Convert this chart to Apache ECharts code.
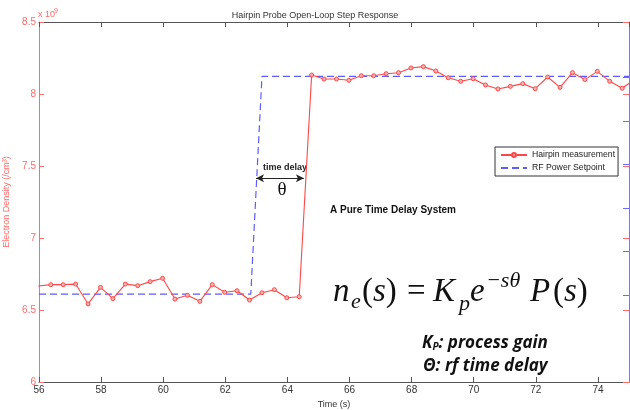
<!DOCTYPE html>
<html>
<head>
<meta charset="utf-8">
<script src="https://cdn.jsdelivr.net/npm/echarts@6/dist/echarts.min.js"></script>
<style>
  html, body { margin: 0; padding: 0; background: #fff; }
  #chart { width: 630px; height: 410px; }
</style>
</head>
<body>
<div id="chart"></div>
<script>
// Hairpin probe samples (time in s, electron density in units of 1e9 /cm^3)
const sampleTime = [
  55.98, 56.38, 56.78, 57.18, 57.58, 57.98, 58.38, 58.78, 59.18, 59.58,
  59.98, 60.38, 60.78, 61.18, 61.58, 61.98, 62.38, 62.78, 63.18, 63.58,
  63.98, 64.38, 64.78, 65.18, 65.58, 65.98, 66.38, 66.78, 67.18, 67.58,
  67.98, 68.38, 68.78, 69.18, 69.58, 69.98, 70.38, 70.78, 71.18, 71.58,
  71.98, 72.38, 72.78, 73.18, 73.58, 73.98, 74.38, 74.78, 75.18
];
const density = [
  6.667, 6.676, 6.676, 6.680, 6.542, 6.657, 6.579, 6.680, 6.669, 6.697,
  6.720, 6.576, 6.602, 6.560, 6.676, 6.623, 6.634, 6.569, 6.620, 6.641,
  6.585, 6.592, 8.132, 8.104, 8.104, 8.095, 8.127, 8.127, 8.141, 8.148,
  8.181, 8.190, 8.160, 8.113, 8.088, 8.106, 8.063, 8.035, 8.053, 8.072,
  8.037, 8.118, 8.046, 8.148, 8.100, 8.157, 8.088, 8.040, 8.100
];

// RF power setpoint step, drawn on the density scale
const setpointTime = [56, 62.82, 63.18, 75];
const setpointLevel = [6.61, 6.61, 8.123, 8.123];

// Time-delay arrow endpoints [t, density]
const delayStart = [62.99, 7.415];
const delayEnd = [64.53, 7.415];

// Axis settings
const xMin = 56, xMax = 75, xStep = 2;
const yMin = 6, yMax = 8.5, yStep = 0.5;
// Secondary (setpoint) axis tick positions
const powerMin = 0, powerMax = 8.28;
const powerTicks = [2, 3, 4, 5, 6, 7];

const RED = '#ff4646';
const RED_AXIS = '#ff6a6a';
const BLUE = '#5c5cff';
const DARK = '#555555';
const SANS = 'Arial, "Liberation Sans", sans-serif';

const measured = sampleTime.map((t, i) => [t, density[i]]);
const setpoint = setpointTime.map((t, i) => [t, setpointLevel[i]]);

const chart = echarts.init(document.getElementById('chart'), null, { renderer: 'canvas' });

const eqY = 292;
const serif = '"Liberation Serif", "Times New Roman", serif';
const noteFont = '"Open Sans", Lato, sans-serif';

chart.setOption({
  animation: false,
  backgroundColor: '#ffffff',
  title: {
    text: 'Hairpin Probe Open-Loop Step Response',
    left: 'center',
    top: 6,
    textStyle: { fontSize: 9, fontWeight: 'normal', color: '#333', fontFamily: SANS }
  },
  grid: { left: 39, right: 1, top: 22, bottom: 28, containLabel: false, outerBoundsMode: 'none' },
  legend: {
    orient: 'vertical',
    left: 495,
    top: 147,
    padding: [2, 3, 2, 5],
    itemGap: 1,
    itemWidth: 26,
    itemHeight: 5,
    backgroundColor: '#ffffff',
    borderColor: '#333',
    borderWidth: 1,
    borderRadius: 0,
    textStyle: { fontSize: 8.7, color: '#222', lineHeight: 12, fontFamily: SANS },
    data: [
      { name: 'Hairpin measurement' },
      { name: 'RF Power Setpoint', itemStyle: { opacity: 0 } }
    ]
  },
  xAxis: [
    {
      type: 'value', position: 'bottom', min: xMin, max: xMax, interval: xStep,
      name: 'Time (s)', nameLocation: 'middle', nameGap: 12,
      nameTextStyle: { fontSize: 9, color: '#333', fontFamily: SANS },
      axisLine: { show: true, lineStyle: { color: DARK, width: 1 } },
      axisTick: { show: true, inside: true, length: 5, lineStyle: { color: DARK } },
      axisLabel: { fontSize: 10, color: '#333', margin: 3, showMaxLabel: false, fontFamily: SANS },
      splitLine: { show: false }
    },
    {
      type: 'value', position: 'top', min: xMin, max: xMax, interval: xStep,
      axisLine: { show: true, lineStyle: { color: DARK, width: 1 } },
      axisTick: { show: true, inside: true, length: 5, lineStyle: { color: DARK } },
      axisLabel: { show: false },
      splitLine: { show: false }
    }
  ],
  yAxis: [
    {
      type: 'value', position: 'left', min: yMin, max: yMax, interval: yStep,
      name: 'Electron Density (/cm³)', nameLocation: 'middle', nameGap: 21,
      nameTextStyle: { fontSize: 9, color: RED_AXIS, fontFamily: SANS },
      axisLine: { show: true, lineStyle: { color: RED_AXIS, width: 1 } },
      axisTick: { show: true, inside: true, length: 5, lineStyle: { color: RED_AXIS } },
      axisLabel: { fontSize: 10, color: RED_AXIS, margin: 3, fontFamily: SANS },
      splitLine: { show: false }
    },
    {
      type: 'value', position: 'right', min: yMin, max: yMax, interval: yStep,
      axisLine: { show: false },
      axisTick: { show: true, inside: true, length: 6, lineStyle: { color: RED_AXIS } },
      axisLabel: { show: false },
      splitLine: { show: false }
    },
    {
      type: 'value', position: 'right', min: powerMin, max: powerMax,
      axisLine: { show: true, lineStyle: { color: '#7474ff', width: 1 } },
      axisTick: { show: true, inside: true, length: 6, customValues: powerTicks, lineStyle: { color: '#6a6aff' } },
      axisLabel: { show: false },
      splitLine: { show: false }
    }
  ],
  series: [
    {
      name: 'Hairpin measurement',
      type: 'line',
      xAxisIndex: 0, yAxisIndex: 0,
      data: measured,
      symbol: 'circle',
      symbolSize: 4,
      clip: true,
      lineStyle: { color: RED, width: 1.1 },
      itemStyle: { color: '#ffb3b3', borderColor: RED, borderWidth: 1 },
      z: 3,
      markLine: {
        silent: true,
        symbol: ['arrow', 'arrow'],
        symbolSize: [6, 8],
        label: { show: false },
        lineStyle: { color: '#222', width: 1.2, type: 'solid' },
        data: [[{ coord: delayStart }, { coord: delayEnd }]]
      }
    },
    {
      name: 'RF Power Setpoint',
      type: 'line',
      xAxisIndex: 0, yAxisIndex: 0,
      data: setpoint,
      symbol: 'none',
      clip: true,
      lineStyle: { color: BLUE, width: 1.2, type: [7, 4] },
      itemStyle: { color: BLUE },
      z: 2
    }
  ],
  graphic: [
    // exponent marker for the density axis
    { type: 'text', x: 38, y: 15, style: { text: 'x 10', font: '9px ' + SANS, fill: RED_AXIS, textVerticalAlign: 'middle' } },
    { type: 'text', x: 54, y: 11, style: { text: '9', font: '7px ' + SANS, fill: RED_AXIS, textVerticalAlign: 'middle' } },

    // delay annotation
    { type: 'text', x: 285, y: 168, style: { text: 'time delay', font: 'bold 9px ' + SANS, fill: '#222', textAlign: 'center', textVerticalAlign: 'middle' } },
    { type: 'text', x: 282, y: 190, style: { text: 'θ', font: '19px ' + serif, fill: '#111', textAlign: 'center', textVerticalAlign: 'middle' } },
    { type: 'text', x: 393, y: 210, style: { text: 'A Pure Time Delay System', font: 'bold 10px ' + SANS, fill: '#111', textAlign: 'center', textVerticalAlign: 'middle' } },

    // transfer function  n_e(s) = K_p e^{-sθ} P(s)
    { type: 'text', x: 333, y: eqY, style: { text: 'n', font: 'italic 33px ' + serif, fill: '#111', textVerticalAlign: 'middle' } },
    { type: 'text', x: 351, y: eqY + 10, style: { text: 'e', font: 'italic 22px ' + serif, fill: '#111', textVerticalAlign: 'middle' } },
    { type: 'text', x: 362, y: eqY, style: {
      text: '{u|(}{i|s}{u|)}', fill: '#111', textVerticalAlign: 'middle',
      rich: { u: { fontFamily: serif, fontSize: 33, color: '#111' }, i: { fontFamily: serif, fontSize: 33, fontStyle: 'italic', color: '#111' } }
    } },
    { type: 'text', x: 407, y: eqY, style: { text: '=', font: '33px ' + serif, fill: '#111', textVerticalAlign: 'middle' } },
    { type: 'text', x: 433, y: eqY, style: { text: 'K', font: 'italic 33px ' + serif, fill: '#111', textVerticalAlign: 'middle' } },
    { type: 'text', x: 459, y: eqY + 12, style: { text: 'p', font: 'italic 22px ' + serif, fill: '#111', textVerticalAlign: 'middle' } },
    { type: 'text', x: 470, y: eqY, style: { text: 'e', font: 'italic 33px ' + serif, fill: '#111', textVerticalAlign: 'middle' } },
    { type: 'text', x: 486, y: eqY - 11, style: { text: '−sθ', font: 'italic 22px ' + serif, fill: '#111', textVerticalAlign: 'middle' } },
    { type: 'text', x: 530, y: eqY, style: { text: 'P', font: 'italic 33px ' + serif, fill: '#111', textVerticalAlign: 'middle' } },
    { type: 'text', x: 553, y: eqY, style: {
      text: '{u|(}{i|s}{u|)}', fill: '#111', textVerticalAlign: 'middle',
      rich: { u: { fontFamily: serif, fontSize: 33, color: '#111' }, i: { fontFamily: serif, fontSize: 33, fontStyle: 'italic', color: '#111' } }
    } },

    // parameter notes
    { type: 'text', x: 422, y: 343, style: {
      text: '{b|K}{s|P}{b|: process gain}', fill: '#111', textVerticalAlign: 'middle',
      rich: {
        b: { fontFamily: noteFont, fontSize: 17, fontWeight: 'bold', fontStyle: 'italic', color: '#111' },
        s: { fontFamily: noteFont, fontSize: 10, fontWeight: 'bold', fontStyle: 'italic', color: '#111', verticalAlign: 'bottom', padding: [8, 0, 0, 0] }
      }
    } },
    { type: 'text', x: 423, y: 366, style: { text: 'Θ: rf time delay', font: 'italic bold 17px ' + noteFont, fill: '#111', textVerticalAlign: 'middle' } }
  ]
});
</script>
</body>
</html>
